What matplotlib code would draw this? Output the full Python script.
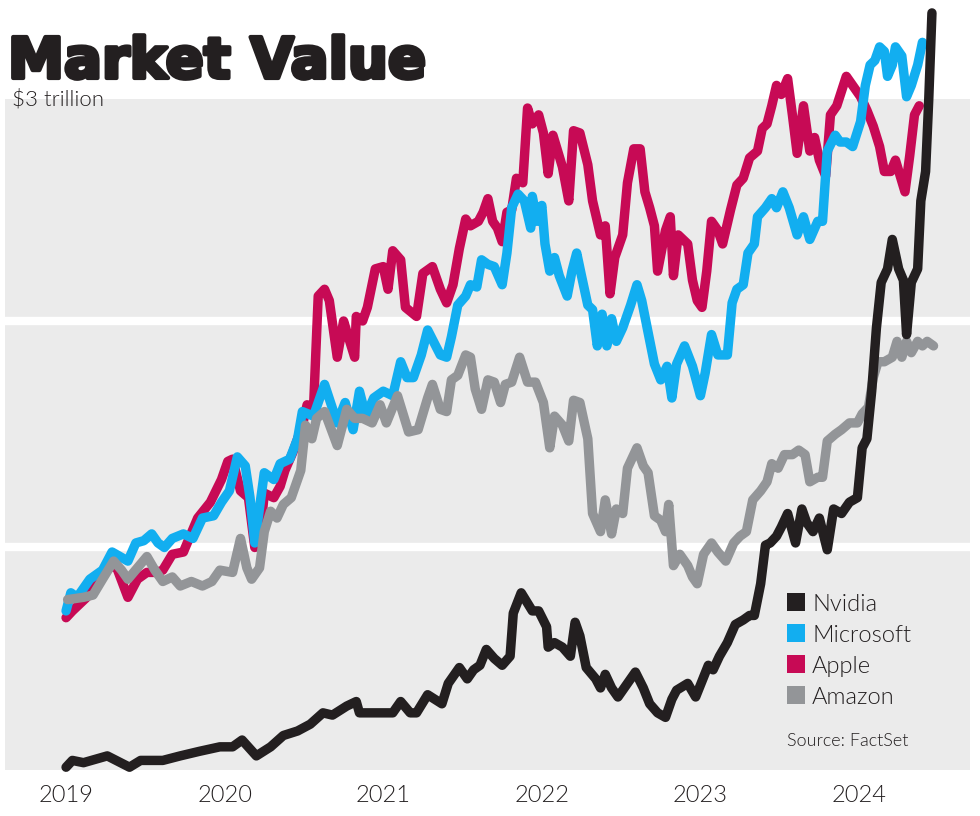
import matplotlib
matplotlib.use("Agg")
import matplotlib.pyplot as plt
import matplotlib.patheffects as pe
from matplotlib.patches import Rectangle

# ---- data (trillions of dollars, x = decimal year) ----
apple_t = [2019.00, 2019.04, 2019.13, 2019.26, 2019.32, 2019.39, 2019.45, 2019.51, 2019.57, 2019.61,
           2019.67, 2019.74, 2019.83, 2019.91, 2019.98, 2020.02, 2020.05, 2020.10, 2020.15, 2020.19,
           2020.22, 2020.25, 2020.31, 2020.35, 2020.38, 2020.43, 2020.49, 2020.52, 2020.56, 2020.59,
           2020.63, 2020.66, 2020.71, 2020.75, 2020.78, 2020.82, 2020.83, 2020.87, 2020.90, 2020.95,
           2021.00, 2021.03, 2021.06, 2021.11, 2021.14, 2021.21, 2021.25, 2021.31, 2021.36, 2021.40,
           2021.44, 2021.48, 2021.52, 2021.55, 2021.60, 2021.63, 2021.66, 2021.69, 2021.72, 2021.75,
           2021.78, 2021.81, 2021.84, 2021.88, 2021.91, 2021.94, 2021.98, 2022.01, 2022.04, 2022.07,
           2022.10, 2022.13, 2022.17, 2022.20, 2022.24, 2022.29, 2022.32, 2022.37, 2022.40, 2022.43,
           2022.46, 2022.51, 2022.54, 2022.58, 2022.62, 2022.65, 2022.68, 2022.71, 2022.73, 2022.78,
           2022.81, 2022.83, 2022.86, 2022.92, 2022.95, 2022.98, 2023.01, 2023.04, 2023.07, 2023.11,
           2023.14, 2023.19, 2023.23, 2023.27, 2023.31, 2023.36, 2023.39, 2023.42, 2023.45, 2023.48,
           2023.51, 2023.55, 2023.58, 2023.61, 2023.65, 2023.69, 2023.72, 2023.75, 2023.79, 2023.82,
           2023.86, 2023.92, 2023.96, 2024.01, 2024.05, 2024.09, 2024.13, 2024.16, 2024.20, 2024.23,
           2024.26, 2024.29, 2024.32, 2024.35, 2024.38]
apple_v = [0.69, 0.72, 0.78, 0.92, 0.91, 0.78, 0.86, 0.89, 0.89, 0.90,
           0.97, 0.98, 1.13, 1.20, 1.30, 1.38, 1.39, 1.25, 1.22, 1.00,
           1.02, 1.24, 1.22, 1.27, 1.34, 1.42, 1.54, 1.63, 1.61, 2.11,
           2.14, 2.09, 1.84, 2.00, 1.93, 1.84, 2.02, 2.00, 2.06, 2.23,
           2.24, 2.14, 2.31, 2.27, 2.06, 2.02, 2.21, 2.24, 2.14, 2.08,
           2.16, 2.32, 2.45, 2.42, 2.44, 2.48, 2.54, 2.44, 2.41, 2.35,
           2.48, 2.49, 2.63, 2.61, 2.94, 2.87, 2.91, 2.83, 2.65, 2.82,
           2.75, 2.68, 2.53, 2.84, 2.83, 2.69, 2.53, 2.38, 2.42, 2.12,
           2.28, 2.38, 2.61, 2.76, 2.76, 2.57, 2.50, 2.42, 2.22, 2.40,
           2.46, 2.20, 2.38, 2.34, 2.18, 2.09, 2.06, 2.22, 2.44, 2.40,
           2.34, 2.49, 2.60, 2.63, 2.72, 2.75, 2.85, 2.87, 2.95, 3.04,
           3.00, 3.07, 2.91, 2.74, 2.95, 2.75, 2.81, 2.71, 2.64, 2.91,
           2.95, 3.08, 3.04, 2.99, 2.93, 2.86, 2.77, 2.66, 2.66, 2.71,
           2.64, 2.57, 2.73, 2.91, 2.95]

msft_t = [2019.00, 2019.03, 2019.07, 2019.15, 2019.23, 2019.29, 2019.34, 2019.39, 2019.44, 2019.49,
          2019.54, 2019.58, 2019.62, 2019.67, 2019.74, 2019.80, 2019.86, 2019.93, 2019.98, 2020.03,
          2020.08, 2020.13, 2020.16, 2020.19, 2020.25, 2020.31, 2020.35, 2020.41, 2020.46, 2020.49,
          2020.56, 2020.63, 2020.71, 2020.76, 2020.81, 2020.85, 2020.89, 2020.94, 2021.00, 2021.06,
          2021.11, 2021.15, 2021.19, 2021.24, 2021.28, 2021.36, 2021.40, 2021.43, 2021.47, 2021.52,
          2021.55, 2021.59, 2021.62, 2021.66, 2021.70, 2021.75, 2021.78, 2021.81, 2021.85, 2021.89,
          2021.93, 2021.94, 2021.97, 2022.00, 2022.02, 2022.05, 2022.08, 2022.11, 2022.16, 2022.19,
          2022.22, 2022.25, 2022.29, 2022.32, 2022.35, 2022.38, 2022.41, 2022.44, 2022.47, 2022.51,
          2022.56, 2022.60, 2022.63, 2022.67, 2022.71, 2022.75, 2022.79, 2022.82, 2022.85, 2022.90,
          2022.95, 2023.00, 2023.03, 2023.07, 2023.11, 2023.17, 2023.20, 2023.23, 2023.27, 2023.30,
          2023.34, 2023.36, 2023.41, 2023.45, 2023.48, 2023.52, 2023.56, 2023.61, 2023.65, 2023.69,
          2023.74, 2023.77, 2023.80, 2023.85, 2023.88, 2023.92, 2023.96, 2024.01, 2024.04, 2024.07,
          2024.10, 2024.13, 2024.16, 2024.18, 2024.21, 2024.23, 2024.27, 2024.30, 2024.33, 2024.37,
          2024.40]
msft_v = [0.72, 0.80, 0.78, 0.86, 0.90, 0.98, 0.96, 0.94, 1.02, 1.03,
          1.06, 1.02, 1.00, 1.04, 1.06, 1.04, 1.13, 1.14, 1.20, 1.25,
          1.40, 1.36, 1.22, 1.02, 1.33, 1.30, 1.37, 1.39, 1.48, 1.60,
          1.58, 1.72, 1.55, 1.64, 1.52, 1.69, 1.58, 1.66, 1.69, 1.67,
          1.82, 1.75, 1.75, 1.85, 1.96, 1.85, 1.84, 1.93, 2.07, 2.11,
          2.16, 2.15, 2.27, 2.25, 2.24, 2.16, 2.30, 2.50, 2.56, 2.53,
          2.41, 2.55, 2.44, 2.51, 2.34, 2.22, 2.28, 2.20, 2.11, 2.22,
          2.30, 2.20, 2.07, 2.05, 1.89, 2.03, 1.89, 2.01, 1.91, 1.97,
          2.07, 2.16, 2.09, 1.95, 1.81, 1.74, 1.80, 1.66, 1.81, 1.89,
          1.80, 1.67, 1.77, 1.94, 1.85, 1.85, 2.08, 2.14, 2.16, 2.30,
          2.34, 2.46, 2.50, 2.54, 2.50, 2.57, 2.50, 2.38, 2.46, 2.36,
          2.44, 2.44, 2.75, 2.82, 2.79, 2.79, 2.77, 2.88, 3.04, 3.13,
          3.15, 3.21, 3.19, 3.08, 3.13, 3.21, 3.17, 2.99, 3.04, 3.13,
          3.23]

amzn_t = [2019.01, 2019.11, 2019.17, 2019.23, 2019.30, 2019.35, 2019.39, 2019.45, 2019.51, 2019.56,
          2019.61, 2019.67, 2019.72, 2019.79, 2019.86, 2019.92, 2019.97, 2020.05, 2020.10, 2020.14,
          2020.17, 2020.22, 2020.25, 2020.29, 2020.33, 2020.37, 2020.42, 2020.48, 2020.51, 2020.55,
          2020.58, 2020.63, 2020.71, 2020.77, 2020.82, 2020.87, 2020.93, 2020.98, 2021.02, 2021.09,
          2021.16, 2021.22, 2021.28, 2021.31, 2021.36, 2021.40, 2021.43, 2021.47, 2021.52, 2021.55,
          2021.58, 2021.62, 2021.66, 2021.70, 2021.74, 2021.77, 2021.81, 2021.86, 2021.91, 2021.96,
          2022.01, 2022.05, 2022.08, 2022.13, 2022.17, 2022.20, 2022.24, 2022.29, 2022.32, 2022.37,
          2022.40, 2022.44, 2022.47, 2022.51, 2022.54, 2022.60, 2022.64, 2022.67, 2022.71, 2022.75,
          2022.78, 2022.80, 2022.83, 2022.87, 2022.92, 2022.95, 2022.98, 2023.02, 2023.07, 2023.11,
          2023.16, 2023.21, 2023.25, 2023.29, 2023.33, 2023.38, 2023.42, 2023.45, 2023.49, 2023.53,
          2023.58, 2023.62, 2023.66, 2023.69, 2023.74, 2023.77, 2023.80, 2023.85, 2023.89, 2023.94,
          2023.99, 2024.02, 2024.06, 2024.09, 2024.12, 2024.16, 2024.21, 2024.24, 2024.27, 2024.30,
          2024.33, 2024.37, 2024.40, 2024.43, 2024.47]
amzn_v = [0.77, 0.78, 0.79, 0.86, 0.94, 0.90, 0.86, 0.91, 0.96, 0.90,
          0.85, 0.87, 0.83, 0.85, 0.83, 0.85, 0.90, 0.89, 1.04, 0.91,
          0.86, 0.91, 1.07, 1.16, 1.13, 1.19, 1.22, 1.34, 1.54, 1.48,
          1.57, 1.60, 1.45, 1.61, 1.57, 1.57, 1.55, 1.63, 1.55, 1.67,
          1.51, 1.52, 1.66, 1.72, 1.61, 1.60, 1.74, 1.76, 1.85, 1.84,
          1.70, 1.61, 1.74, 1.73, 1.64, 1.72, 1.73, 1.84, 1.73, 1.73,
          1.64, 1.44, 1.58, 1.54, 1.47, 1.65, 1.64, 1.48, 1.15, 1.07,
          1.21, 1.06, 1.17, 1.15, 1.35, 1.44, 1.36, 1.33, 1.14, 1.12,
          1.07, 1.19, 0.92, 0.97, 0.92, 0.87, 0.84, 0.97, 1.02, 0.98,
          0.94, 1.02, 1.05, 1.07, 1.21, 1.25, 1.29, 1.37, 1.35, 1.41,
          1.41, 1.43, 1.41, 1.29, 1.31, 1.31, 1.47, 1.50, 1.52, 1.55,
          1.55, 1.59, 1.62, 1.75, 1.82, 1.82, 1.84, 1.91, 1.84, 1.91,
          1.86, 1.91, 1.89, 1.91, 1.89]

nvda_t = [2019.00, 2019.04, 2019.11, 2019.26, 2019.40, 2019.47, 2019.61, 2019.72, 2019.84, 2019.97,
          2020.05, 2020.11, 2020.20, 2020.29, 2020.37, 2020.46, 2020.54, 2020.62, 2020.68, 2020.77,
          2020.83, 2020.85, 2020.94, 2021.06, 2021.11, 2021.17, 2021.21, 2021.28, 2021.37, 2021.41,
          2021.48, 2021.53, 2021.57, 2021.61, 2021.65, 2021.70, 2021.75, 2021.80, 2021.82, 2021.87,
          2021.94, 2021.98, 2022.03, 2022.04, 2022.08, 2022.13, 2022.18, 2022.21, 2022.24, 2022.28,
          2022.34, 2022.37, 2022.40, 2022.44, 2022.48, 2022.54, 2022.59, 2022.64, 2022.68, 2022.73,
          2022.78, 2022.82, 2022.85, 2022.92, 2022.97, 2023.01, 2023.05, 2023.08, 2023.12, 2023.17,
          2023.22, 2023.27, 2023.31, 2023.34, 2023.38, 2023.41, 2023.44, 2023.48, 2023.51, 2023.55,
          2023.60, 2023.64, 2023.67, 2023.71, 2023.75, 2023.80, 2023.84, 2023.89, 2023.94, 2023.99,
          2024.02, 2024.05, 2024.08, 2024.11, 2024.14, 2024.18, 2024.21, 2024.25, 2024.28, 2024.30,
          2024.33, 2024.37, 2024.39, 2024.42, 2024.44, 2024.46]
nvda_v = [0.03, 0.06, 0.05, 0.08, 0.03, 0.06, 0.06, 0.08, 0.10, 0.12,
          0.12, 0.15, 0.08, 0.12, 0.17, 0.19, 0.22, 0.27, 0.26, 0.30,
          0.32, 0.27, 0.27, 0.27, 0.32, 0.27, 0.27, 0.35, 0.31, 0.40,
          0.47, 0.42, 0.46, 0.48, 0.55, 0.51, 0.48, 0.52, 0.71, 0.80,
          0.72, 0.72, 0.65, 0.56, 0.58, 0.56, 0.52, 0.67, 0.61, 0.47,
          0.42, 0.38, 0.44, 0.38, 0.34, 0.40, 0.45, 0.38, 0.31, 0.27,
          0.25, 0.33, 0.37, 0.40, 0.34, 0.41, 0.48, 0.46, 0.52, 0.58,
          0.66, 0.68, 0.70, 0.70, 0.84, 1.01, 1.02, 1.05, 1.09, 1.15,
          1.02, 1.17, 1.11, 1.07, 1.13, 0.99, 1.17, 1.15, 1.20, 1.22,
          1.44, 1.48, 1.69, 1.97, 2.17, 2.23, 2.36, 2.23, 2.18, 1.94,
          2.17, 2.23, 2.53, 2.66, 2.98, 3.36]

# drawing order: first is bottom
series = [
    ("Apple", apple_t, apple_v, "#c70a55"),
    ("Microsoft", msft_t, msft_v, "#12aef0"),
    ("Amazon", amzn_t, amzn_v, "#939598"),
    ("Nvidia", nvda_t, nvda_v, "#231f20"),
]
legend_order = ["Nvidia", "Microsoft", "Apple", "Amazon"]
years = [2019, 2020, 2021, 2022, 2023, 2024]
gridlines = [1, 2]

BAND = "#ebebeb"
INK = "#231f20"
W, H = 980, 816

fig = plt.figure(figsize=(W / 100, H / 100), dpi=100)
ax = fig.add_axes([5 / W, 46 / H, 965 / W, 770 / H])
ax.set_xlim(2018.615, 2024.70)
ax.set_ylim(0.0177, 3.417)
ax.axis("off")

# gray band with white separators
ax.axhspan(0.018, 2.982, color=BAND, lw=0, zorder=0)
for g in gridlines:
    ax.axhline(g, color="white", lw=6, zorder=1)

for name, t, v, col in series:
    ax.plot(t, v, color=col, lw=6.8, solid_joinstyle="round", solid_capstyle="round",
            zorder=3, clip_on=False)

# year labels
for yr in years:
    ax.text(yr, -0.095, str(yr), ha="center", va="center", fontsize=17,
            family="Lato", fontweight=300, color=INK)

# title and unit
fig.text(8 / W, 1 - 78 / H, "Market Value", ha="left", va="baseline",
         fontsize=40.5, family="DejaVu Sans", fontweight="bold", color=INK,
         path_effects=[pe.withStroke(linewidth=3, foreground=INK)])
fig.text(12 / W, 1 - 106 / H, "$3 trillion", ha="left", va="baseline",
         fontsize=16, family="Lato", fontweight=300, color=INK)

# legend
colors = {s[0]: s[3] for s in series}
for i, name in enumerate(legend_order):
    yc = 602 + i * 31
    fig.patches.append(Rectangle((787 / W, 1 - (yc + 9) / H), 18 / W, 18 / H,
                                 transform=fig.transFigure, color=colors[name], lw=0))
    fig.text(812 / W, 1 - (yc + 9) / H, name, ha="left", va="baseline",
             fontsize=17, family="Lato", fontweight=300, color=INK)
fig.text(787 / W, 1 - 746 / H, "Source: FactSet", ha="left", va="baseline",
         fontsize=13, family="Lato", fontweight=300, color=INK)

fig.savefig("out.png", dpi=100, facecolor="white")
